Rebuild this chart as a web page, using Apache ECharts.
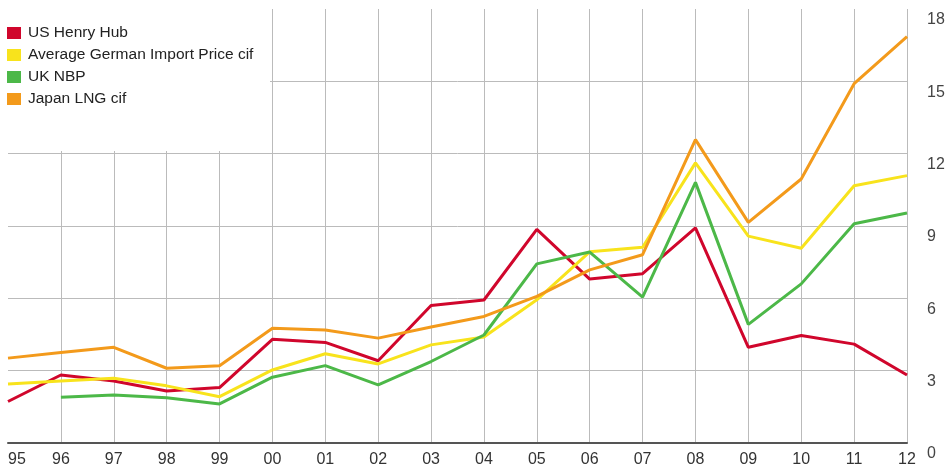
<!DOCTYPE html>
<html>
<head>
<meta charset="utf-8">
<script src="https://cdn.jsdelivr.net/npm/echarts@6/dist/echarts.min.js"></script>
<style>
  html, body { margin: 0; padding: 0; background: #fff; }
  #chart { width: 945px; height: 464px; }
</style>
</head>
<body>
<div id="chart"></div>
<script>
// years
const years = ['95', '96', '97', '98', '99', '00', '01', '02', '03', '04', '05', '06', '07', '08', '09', '10', '11', '12'];

// US Henry Hub
const henryHub = [1.72, 2.82, 2.57, 2.16, 2.30, 4.30, 4.17, 3.41, 5.70, 5.93, 8.86, 6.80, 7.02, 8.92, 3.97, 4.46, 4.10, 2.82];
// Average German Import Price cif
const germanImport = [2.45, 2.57, 2.69, 2.37, 1.92, 3.03, 3.70, 3.28, 4.07, 4.40, 5.94, 7.93, 8.12, 11.62, 8.58, 8.08, 10.67, 11.09];
// UK NBP
const ukNbp = [null, 1.90, 1.99, 1.88, 1.62, 2.73, 3.21, 2.41, 3.38, 4.48, 7.43, 7.92, 6.05, 10.81, 4.92, 6.60, 9.09, 9.54];
// Japan LNG cif
const japanLng = [3.52, 3.75, 3.97, 3.10, 3.20, 4.76, 4.69, 4.35, 4.81, 5.25, 6.08, 7.18, 7.81, 12.58, 9.15, 10.95, 14.90, 16.85];

const chart = echarts.init(document.getElementById('chart'));

const mkLine = (name, data, color) => ({
  name: name,
  type: 'line',
  data: data,
  symbol: 'none',
  lineStyle: { width: 3, color: color },
  itemStyle: { color: color }
});

const option = {
  animation: false,
  backgroundColor: '#fff',
  textStyle: { fontFamily: 'Liberation Sans, Arial, sans-serif' },
  grid: { left: 8, right: 38, top: 9, bottom: 21, containLabel: false, outerBoundsMode: 'none' },
  // white block behind the legend hides the grid lines there
  graphic: [{
    type: 'rect',
    left: 0,
    top: 0,
    z: 3,
    shape: { width: 270, height: 151 },
    style: { fill: '#fff' }
  }],
  legend: {
    z: 5,
    orient: 'vertical',
    left: 7,
    top: 25,
    padding: 0,
    itemWidth: 14,
    itemHeight: 12,
    itemGap: 6,
    icon: 'rect',
    textStyle: { fontSize: 15.5, color: '#222', padding: [0, 0, 0, 2] },
    data: ['US Henry Hub', 'Average German Import Price cif', 'UK NBP', 'Japan LNG cif']
  },
  xAxis: {
    type: 'category',
    data: years,
    boundaryGap: false,
    axisLine: { lineStyle: { color: '#555', width: 2 } },
    axisTick: { show: false },
    axisLabel: { fontSize: 16, color: '#333', margin: 9, alignMinLabel: 'left' },
    splitLine: {
      show: true,
      interval: (idx) => idx !== 0,
      lineStyle: { color: '#bbb', width: 1 }
    }
  },
  yAxis: {
    type: 'value',
    position: 'right',
    min: 0,
    max: 18,
    interval: 3,
    axisLine: { show: false },
    axisTick: { show: false },
    axisLabel: { fontSize: 16, color: '#444', margin: 20, verticalAlign: 'top', align: 'left', padding: [3, 0, 0, 0] },
    splitLine: { show: true, showMaxLine: false, showMinLine: false, lineStyle: { color: '#bbb', width: 1 } }
  },
  series: [
    mkLine('US Henry Hub', henryHub, '#d0062c'),
    mkLine('Average German Import Price cif', germanImport, '#f8e31c'),
    mkLine('UK NBP', ukNbp, '#4cb848'),
    mkLine('Japan LNG cif', japanLng, '#f39a1b')
  ]
};

chart.setOption(option);
</script>
</body>
</html>
